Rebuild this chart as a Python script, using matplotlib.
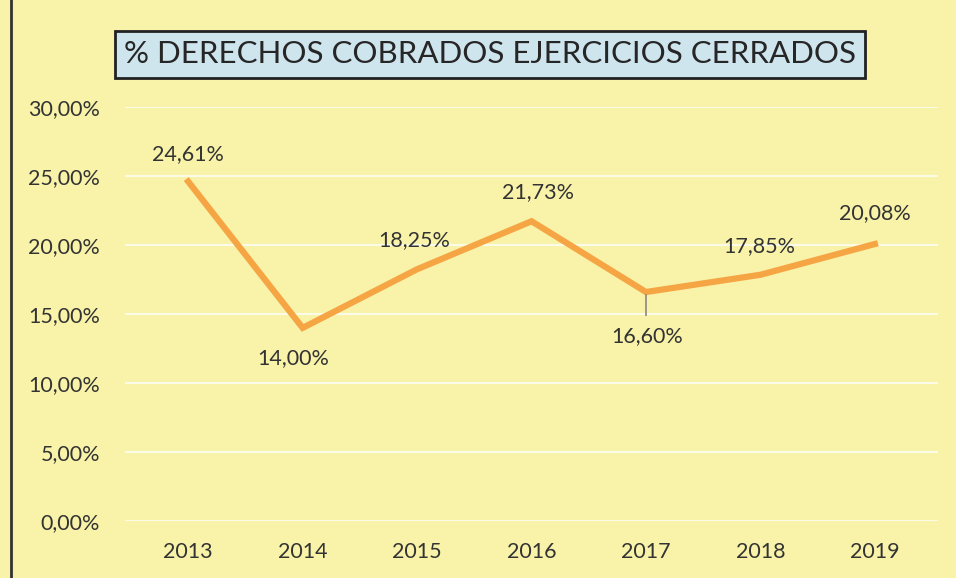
import matplotlib.pyplot as plt
from matplotlib.lines import Line2D
from matplotlib.ticker import FuncFormatter

years = ["2013", "2014", "2015", "2016", "2017", "2018", "2019"]
valores = [24.61, 14.00, 18.25, 21.73, 16.60, 17.85, 20.08]
etiquetas = ["24,61%", "14,00%", "18,25%", "21,73%", "16,60%", "17,85%", "20,08%"]
# desplazamiento de cada etiqueta (puntos)
offsets = [(0, 20), (-7, -22), (-2, 21), (5, 21), (1, -32), (-1, 21), (0, 22)]

fondo = "#f8f3a9"
plt.rcParams["font.family"] = ["Lato", "DejaVu Sans"]

fig = plt.figure(figsize=(9.56, 5.78), dpi=100, facecolor=fondo)
ax = fig.add_axes([0.131, 0.0986, 0.85, 0.716])
ax.set_facecolor(fondo)

x = range(len(years))
ax.plot(x, valores, color="#f6a545", linewidth=4.5, solid_joinstyle="miter", zorder=3)

for i, (v, t) in enumerate(zip(valores, etiquetas)):
    dx, dy = offsets[i]
    ax.annotate(t, (i, v), xytext=(dx, dy), textcoords="offset points",
                ha="center", va="center", fontsize=15.5, color="#333333", zorder=4)
# linea guia de 2017
ax.annotate("", (4, valores[4]), xytext=(4, valores[4] - 1.9),
            arrowprops=dict(arrowstyle="-", color="#888888", lw=1.2))

ax.set_xlim(-0.55, 6.55)
ax.set_ylim(0, 30)
ax.set_yticks(range(0, 31, 5))
ax.yaxis.set_major_formatter(FuncFormatter(lambda v, p: f"{v:.2f}%".replace(".", ",")))
ax.set_xticks(list(x))
ax.set_xticklabels(years)
ax.tick_params(length=0, labelsize=15.5, labelcolor="#333333", pad=15)
ax.tick_params(axis="y", pad=18)
ax.grid(axis="y", color="#fbfbe8", linewidth=1.5)
ax.set_axisbelow(True)
for s in ax.spines.values():
    s.set_visible(False)

fig.text(0.5126, 0.906, "% DERECHOS COBRADOS EJERCICIOS CERRADOS", ha="center", va="center",
         fontsize=22.5, color="#262626",
         bbox=dict(boxstyle="square,pad=0.3", facecolor="#cfe5ee", edgecolor="#222222", linewidth=2))

fig.add_artist(Line2D([0.011, 0.011], [0, 1], color="#333333", linewidth=2))

fig.savefig("out.png", dpi=100, facecolor=fondo)
